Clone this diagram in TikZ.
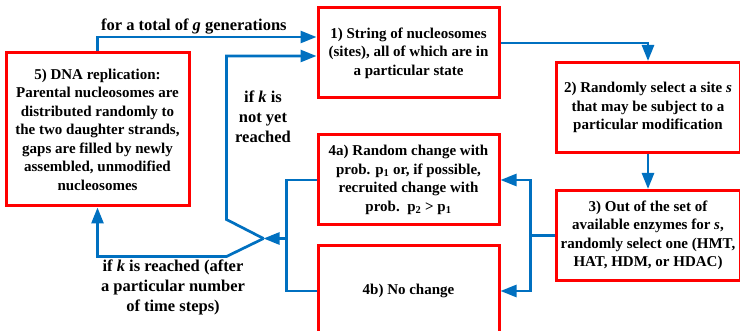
\documentclass[tikz,border=0pt]{standalone}
\usepackage{fontspec}
\setmainfont{Liberation Serif}
\usepackage{xcolor}
\usepackage{tikz}
\usetikzlibrary{arrows.meta, positioning}
\definecolor{boxred}{RGB}{255,0,0}
\definecolor{lineblue}{RGB}{0,112,192}

\begin{document}
\begin{tikzpicture}[
    x=1pt, y=-1pt,
    node distance=34pt,
    box/.style={draw=boxred, line width=3pt, rectangle, minimum width=181pt, minimum height=90pt, align=center, inner sep=2pt, font=\fontsize{15}{18.5}\selectfont\bfseries},
    note/.style={align=center, inner sep=2pt, font=\fontsize{16.5}{20}\selectfont\bfseries},
    wire/.style={draw=lineblue, line width=2.7pt},
    arrow/.style={wire, -{Triangle[length=16pt, width=12pt]}}
]
    \useasboundingbox (0,0) rectangle (740,331);

    \node[box] (sites) at (408.5,53) {1) String of nucleosomes\\(sites), all of which are in\\a particular state};
    \node[box, minimum width=184pt, right=54pt of sites, yshift=-54.5pt] (select) {2) Randomly select a site \textit{s}\\that may be subject to a\\particular modification};
    \node[box, minimum width=184pt, below=35pt of select] (choose) {3) Out of the set of\\available enzymes for \textit{s},\\randomly select one (HMT,\\HAT, HDM, or HDAC)};
    \node[box, below=34pt of sites] (random) {4a) Random change with\\prob. p\textsubscript{1} or, if possible,\\recruited change with\\prob.~~p\textsubscript{2} > p\textsubscript{1}};
    \node[box, below=18pt of random] (nochange) {4b) No change};
    \node[box, minimum width=183pt, minimum height=153pt, left=126pt of sites, yshift=-76.5pt] (replic) {5) DNA replication:\\Parental nucleosomes are\\distributed randomly to\\the two daughter strands,\\gaps are filled by newly\\assembled, unmodified\\nucleosomes};

    \coordinate (split) at ([xshift=-24pt]choose.west);
    \coordinate (fork) at ([xshift=-30pt,yshift=-3pt]random.west |- split);
    \coordinate (join) at ([xshift=-23pt]fork);

    \node[note] (notyet) at (263,117) {if \textit{k} is\\not yet\\reached};
    \node[note] (reached) at (173,287) {if \textit{k} is reached (after\\a particular number\\of time steps)};

    \draw[arrow] (replic.north) |- node[note, above, pos=0.72] {for a total of \textit{g} generations} ([yshift=16pt]sites.west);
    \draw[arrow] ([yshift=10pt]sites.east) -| (select.north);
    \draw[arrow] (select) -- (choose);
    \draw[wire] (choose.west) -- (split);
    \draw[arrow] (split) |- (random.east);
    \draw[arrow] (split) |- (nochange.east);
    \draw[wire] (random.west) -| (fork) |- (nochange.west);
    \draw[arrow] (fork) -- (join);
    \draw[arrow] (join) -- ++(-37,-19) |- ([yshift=-3pt]sites.west);
    \draw[arrow] (join) -- ++(-37,18) -| (replic.south);
\end{tikzpicture}
\end{document}
